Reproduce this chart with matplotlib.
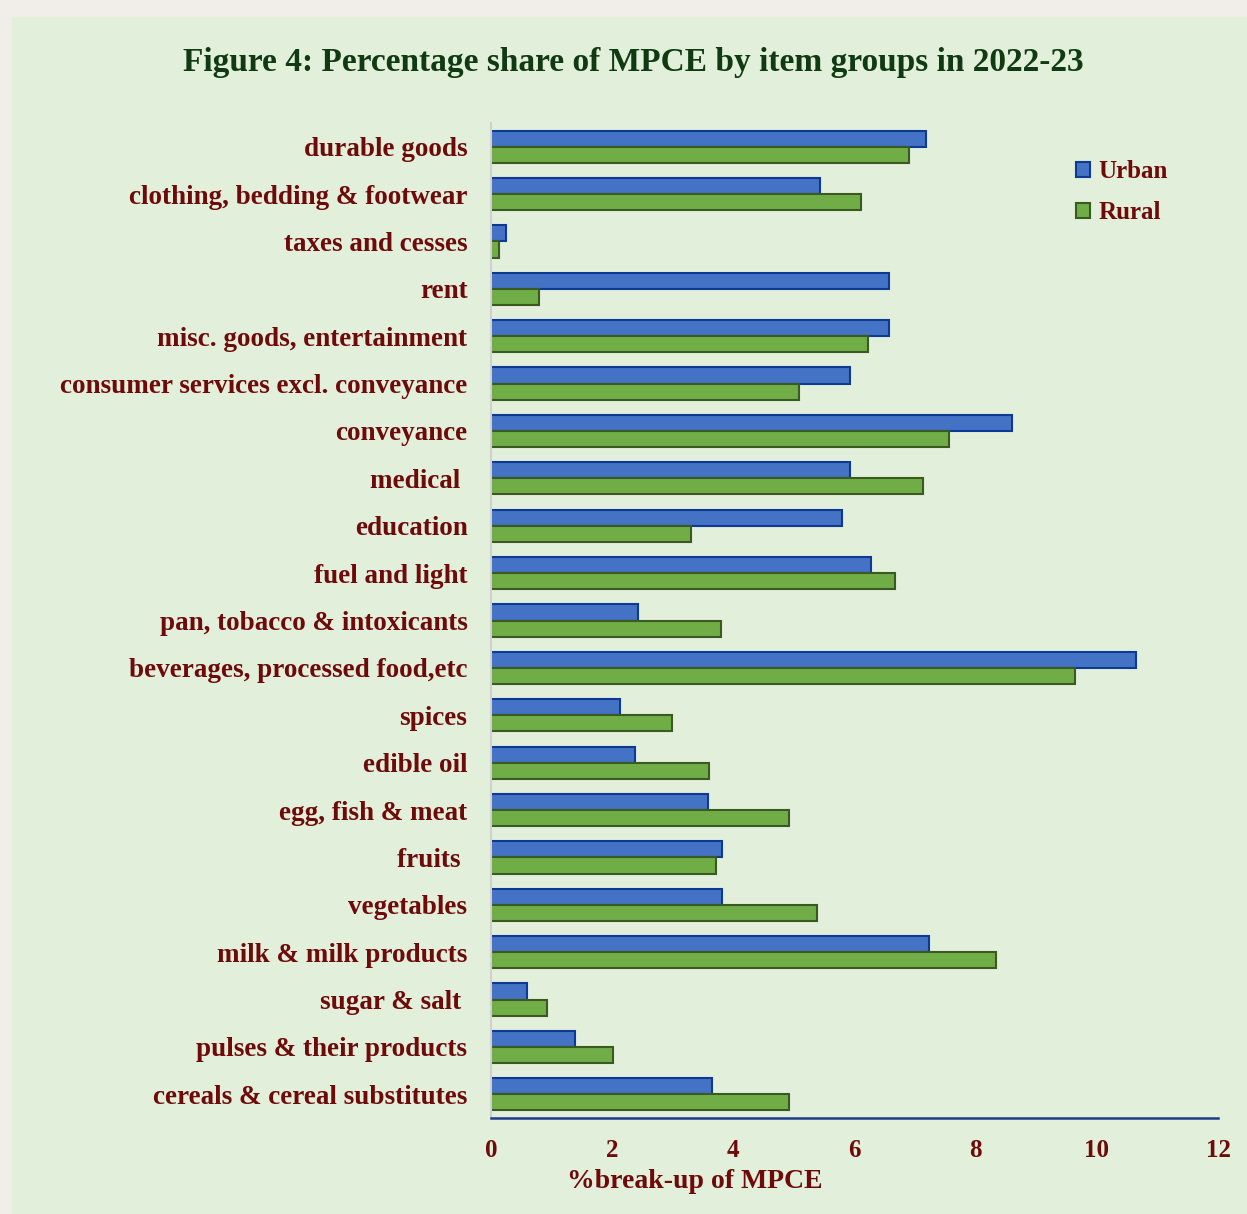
import numpy as np
import matplotlib.pyplot as plt
from matplotlib.patches import Rectangle

# item groups, listed bottom to top
categories = ["cereals & cereal substitutes", "pulses & their products", "sugar & salt ",
              "milk & milk products", "vegetables", "fruits ", "egg, fish & meat",
              "edible oil", "spices", "beverages, processed food,etc",
              "pan, tobacco & intoxicants", "fuel and light", "education", "medical ",
              "conveyance", "consumer services excl. conveyance",
              "misc. goods, entertainment", "rent", "taxes and cesses",
              "clothing, bedding & footwear", "durable goods"]
urban = [3.65, 1.39, 0.59, 7.23, 3.81, 3.81, 3.58, 2.38, 2.13, 10.65,
         2.43, 6.27, 5.79, 5.93, 8.60, 5.93, 6.57, 6.57, 0.25, 5.43, 7.18]
rural = [4.92, 2.01, 0.92, 8.34, 5.38, 3.71, 4.92, 3.60, 2.99, 9.64,
         3.80, 6.67, 3.30, 7.13, 7.56, 5.08, 6.22, 0.79, 0.13, 6.11, 6.90]
xticks = [0, 2, 4, 6, 8, 10, 12]

maroon = "#6E0A0A"
serif = ["Liberation Serif", "DejaVu Serif"]

fig = plt.figure(figsize=(12.47, 12.14), dpi=100, facecolor="#F1EEEA")
fig.patches.append(Rectangle((12 / 1247, 0), 1, 1 - 17 / 1214, transform=fig.transFigure,
                             facecolor="#E2EFDA", edgecolor="none", zorder=-10))

ax = fig.add_axes([491 / 1247, 1 - 1118 / 1214, (1218 - 491) / 1247, (1118 - 123) / 1214])
ax.set_facecolor("none")
ax.set_zorder(5)

y = np.arange(len(categories))
h = 0.34
ax.barh(y + h / 2, urban, height=h, color="#4472C4", edgecolor="#0E3A96", linewidth=1.5, label="Urban")
ax.barh(y - h / 2, rural, height=h, color="#70AD47", edgecolor="#3A5A22", linewidth=1.5, label="Rural")

ax.set_xlim(0, 12)
ax.set_ylim(-0.5, len(categories) - 0.5)
ax.set_yticks(y)
ax.set_yticklabels(categories, fontsize=19.5, fontweight="bold", color=maroon, family=serif)
ax.set_xticks(xticks)
ax.set_xticklabels([str(t) for t in xticks], fontsize=18, fontweight="bold", color=maroon, family=serif)
ax.tick_params(axis="y", length=0, pad=17)
ax.tick_params(axis="x", length=0, pad=15)

for s in ["top", "right"]:
    ax.spines[s].set_visible(False)
ax.spines["left"].set_color("#D0D0D0")
ax.spines["left"].set_linewidth(1.5)
ax.spines["bottom"].set_color("#1F3C88")
ax.spines["bottom"].set_linewidth(1.8)

ax.set_xlabel("%break-up of MPCE", fontsize=20, fontweight="bold", color=maroon, family=serif)
ax.xaxis.set_label_coords((695 - 491) / 727, -(1182 - 1118) / 995)
ax.xaxis.label.set_va("center")

leg = ax.legend(loc="upper right", bbox_to_anchor=(0.962, 0.985), frameon=False,
                prop={"family": serif, "weight": "bold", "size": 18},
                handlelength=0.55, handleheight=0.55, handletextpad=0.35, labelspacing=0.7)
for t in leg.get_texts():
    t.set_color(maroon)

fig.text(0.508, 1 - 62 / 1214, "Figure 4: Percentage share of MPCE by item groups in 2022-23",
         ha="center", va="center", fontsize=24, fontweight="bold", color="#0F3A12", family=serif)

fig.savefig("out.png", dpi=100, facecolor=fig.get_facecolor())
